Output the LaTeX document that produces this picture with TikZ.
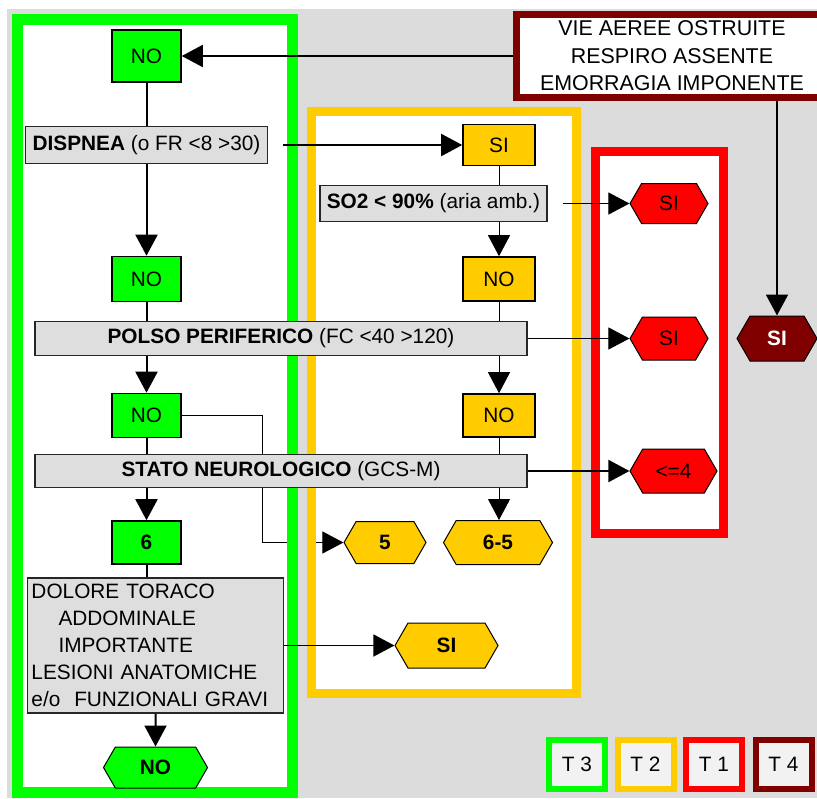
\documentclass[tikz,border=0pt]{standalone}
\usepackage{fontspec}
\setmainfont{Liberation Sans}
\usetikzlibrary{positioning,arrows.meta,shapes.symbols}
\definecolor{tgreen}{RGB}{0,255,0}
\definecolor{tyellow}{RGB}{255,204,0}
\definecolor{tred}{RGB}{255,0,0}
\definecolor{tdarkred}{RGB}{128,0,0}
\definecolor{panelgray}{RGB}{220,220,220}
\definecolor{boxgray}{RGB}{222,222,222}
\definecolor{legendfill}{RGB}{242,242,242}
\pgfdeclarelayer{background}
\pgfsetlayers{background,main}

\begin{document}
\begin{tikzpicture}[x=0.5pt, y=-0.5pt, on grid, >={Triangle[length=10.5pt,width=11pt]},
    font=\fontsize{10.4}{12}\selectfont,
    flow/.style={->, line width=1pt},
    thinflow/.style={->, line width=0.5pt},
    link/.style={line width=1pt},
    thinlink/.style={line width=0.5pt},
    greenbox/.style={rectangle, fill=tgreen, draw=black, line width=0.8pt, minimum width=34.5pt, inner sep=0pt},
    yellowbox/.style={rectangle, fill=tyellow, draw=black, line width=0.8pt, minimum width=36pt, inner sep=0pt},
    question/.style={rectangle, fill=boxgray, draw=black!85, line width=0.8pt, inner sep=2pt},
    outcome/.style={signal, signal to=west and east, signal pointer angle=120, draw=black, line width=0.5pt, inner sep=0pt, minimum height=21pt},
    legend/.style={rectangle, fill=legendfill, line width=3pt, minimum width=28pt, minimum height=24.5pt}]
  \useasboundingbox (0,0) rectangle (817,798);
  \clip (0,0) rectangle (817,798);

  % green column
  \node[greenbox, minimum height=26pt] (NO1) at (146.5,56) {NO};
  \node[question, minimum width=121pt, minimum height=18.5pt] (DISP) [below=44.5pt of NO1] {\textbf{DISPNEA} (o FR <8 >30)};
  \node[greenbox, minimum height=22.5pt] (NO2) [below=67pt of DISP] {NO};
  \node[question, minimum width=246pt, minimum height=17pt] (POLSO) [below right=29.75pt and 67.25pt of NO2] {\textbf{POLSO PERIFERICO} (FC <40 >120)};
  \node[greenbox, minimum height=22pt] (NO3) [below=68.25pt of NO2] {NO};
  \node[question, minimum width=246pt, minimum height=16.5pt] (STATO) [below=66.25pt of POLSO] {\textbf{STATO NEUROLOGICO} (GCS-M)};
  \node[greenbox, minimum height=21.5pt] (SIX) [below=63.5pt of NO3] {\textbf{6}};
  \node[question, text width=124pt, align=left, minimum height=67.5pt, font=\fontsize{10.4}{13.5}\selectfont] (DOLORE) [below right=51.5pt and 4.5pt of SIX]
    {DOLORE TORACO\\\hspace*{13.5pt}ADDOMINALE\\\hspace*{13.5pt}IMPORTANTE\\LESIONI ANATOMICHE\\e/o\ \ FUNZIONALI GRAVI};
  \node[outcome, fill=tgreen, minimum width=52pt, minimum height=20.5pt] (NOhex) [below=61pt of DOLORE] {\textbf{NO}};

  % yellow column
  \node[yellowbox, minimum height=20.5pt] (SIo) [right=176.25pt of DISP] {SI};
  \node[question, minimum width=113.5pt, minimum height=18pt] (SO2) [below left=29.25pt and 32.75pt of SIo] {\textbf{SO2 < 90\%} (aria amb.)};
  \node[yellowbox, minimum height=22pt] (NOa) [right=176.25pt of NO2] {NO};
  \node[yellowbox, minimum height=21.5pt] (NOb) [right=176.25pt of NO3] {NO};
  \node[outcome, fill=tyellow, minimum width=41pt] (FIVE) [right=119.25pt of SIX] {\textbf{5}};
  \node[outcome, fill=tyellow, minimum width=54.5pt, minimum height=22pt] (SIXFIVE) [right=56.5pt of FIVE] {\textbf{6-5}};
  \node[outcome, fill=tyellow, minimum width=51.5pt, minimum height=22.5pt] (SIhex) [right=145.5pt of DOLORE] {\textbf{SI}};

  % red column
  \node[outcome, fill=tred, minimum width=39pt, minimum height=20pt] (SIr1) [right=117.75pt of SO2] {SI};
  \node[outcome, fill=tred, minimum width=39pt, minimum height=21.5pt] (SIr2) [right=194pt of POLSO] {SI};
  \node[outcome, fill=tred, minimum width=43.5pt, minimum height=22pt] (LE4) [right=196.25pt of STATO] {<=4};

  % dark red
  \node[rectangle, fill=white, draw=tdarkred, line width=3.5pt, minimum width=155.5pt, minimum height=39.5pt, align=center, font=\fontsize{10.7}{13.7}\selectfont] (VIE) [right=262.75pt of NO1]
    {VIE AEREE OSTRUITE\\RESPIRO ASSENTE\\EMORRAGIA IMPONENTE};
  \node[outcome, fill=tdarkred, minimum width=40pt, minimum height=22.5pt, text=white] (DSI) [right=54pt of SIr2] {\textbf{SI}};

  % legend
  \node[legend, draw=tgreen] (T3) at (577,764.5) {T 3};
  \node[legend, draw=tyellow] (T2) [right=34.25pt of T3] {T 2};
  \node[legend, draw=tred] (T1) [right=34.25pt of T2] {T 1};
  \node[legend, draw=tdarkred] (T4) [right=34.75pt of T1] {T 4};

  \begin{pgfonlayer}{background}
    \fill[panelgray] (7,9) rectangle (817,798);
    \fill[white] (17.5,19.5) rectangle (292.5,792.5);
    \fill[white] (311.5,111.5) rectangle (576.5,693.5);
    \fill[white] (595.5,151.5) rectangle (723.5,533.5);
    \draw[thinflow] (NO3.east) -- ++(81,0) |- (FIVE.west);
    \fill[panelgray] (298,107) rectangle (307,697);
    \draw[tgreen, line width=5.5pt] (17.5,19.5) rectangle (292.5,792.5);
    \draw[tyellow, line width=4.75pt] (311.5,111.5) rectangle (576.5,693.5);
    \draw[tred, line width=4.5pt] (595.5,151.5) rectangle (723.5,533.5);
  \end{pgfonlayer}

  \draw[flow] (VIE.west) -- (NO1.east);
  \draw[flow] (VIE.south -| DSI.north) -- (DSI.north);
  \draw[link] (NO1) -- (DISP);
  \draw[flow] (DISP) -- (NO2);
  \draw[flow, shorten <=7.5pt] (DISP.east) -- (SIo.west);
  \draw[thinlink] (SIo) -- (SIo |- SO2.north);
  \draw[thinflow] (SO2.south -| NOa) -- (NOa);
  \draw[thinflow, shorten <=7.5pt] (SO2.east) -- (SIr1.west);
  \draw[link] (NO2) -- (NO2 |- POLSO.north);
  \draw[flow] (NO2 |- POLSO.south) -- (NO3);
  \draw[thinlink] (NOa) -- (NOa |- POLSO.north);
  \draw[thinflow] (NOa |- POLSO.south) -- (NOb);
  \draw[thinflow] (POLSO.east) -- (SIr2.west);
  \draw[link] (NO3) -- (NO3 |- STATO.north);
  \draw[flow] (NO3 |- STATO.south) -- (SIX);
  \draw[thinlink] (NOb) -- (NOb |- STATO.north);
  \draw[thinflow] (NOb |- STATO.south) -- (NOb |- SIXFIVE.north);
  \draw[flow] (STATO.east) -- (LE4.west);
  \draw[link] (SIX) -- (SIX |- DOLORE.north);
  \draw[->, line width=0.75pt] (DOLORE.east) -- (SIhex.west);
  \draw[flow] (DOLORE.south -| NOhex) -- (NOhex);
\end{tikzpicture}
\end{document}
